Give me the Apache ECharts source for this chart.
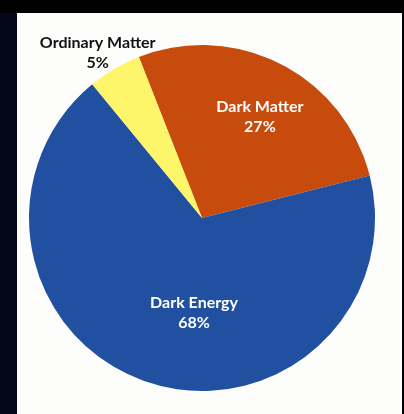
<!DOCTYPE html>
<html>
<head>
<meta charset="utf-8">
<script src="https://cdn.jsdelivr.net/npm/echarts@6/dist/echarts.min.js"></script>
<style>
html,body{margin:0;padding:0;width:404px;height:414px;overflow:hidden;background:linear-gradient(90deg,#03081c 0px,#020616 17px,#000 17px);}
#top{position:absolute;left:0;top:0;width:404px;height:13px;background:#000;}
#c{position:absolute;left:17px;top:13px;width:385px;height:401px;background:#fdfdfc;}
</style>
</head>
<body>
<div id="top"></div>
<div id="c"></div>
<script>
const categories = ["Dark Matter", "Dark Energy", "Ordinary Matter"];
const values = [27, 68, 5];

const colors = {"Dark Matter": "#c64b0c", "Dark Energy": "#2150a0", "Ordinary Matter": "#fdf56a"};
const labelStyles = {
  "Dark Matter": {position: "inside", color: "#ffffff", offset: [17, -22]},
  "Dark Energy": {position: "inside", color: "#ffffff", offset: [20, 10]},
  "Ordinary Matter": {position: "inside", color: "#111111", offset: [-59, -88]}
};

const chart = echarts.init(document.getElementById('c'));
chart.setOption({
  animation: false,
  series: [{
    type: 'pie',
    center: [185, 205],
    radius: [0, 173],
    startAngle: 111.4,
    clockwise: true,
    silent: true,
    labelLine: {show: false},
    label: {
      fontFamily: 'Lato',
      fontWeight: 'bold',
      fontSize: 16,
      lineHeight: 20,
      align: 'center',
      formatter: p => p.name + '\n' + p.value + '%'
    },
    data: categories.map((n, i) => ({
      name: n,
      value: values[i],
      itemStyle: {color: colors[n]},
      label: labelStyles[n]
    }))
  }]
});
</script>
</body>
</html>
